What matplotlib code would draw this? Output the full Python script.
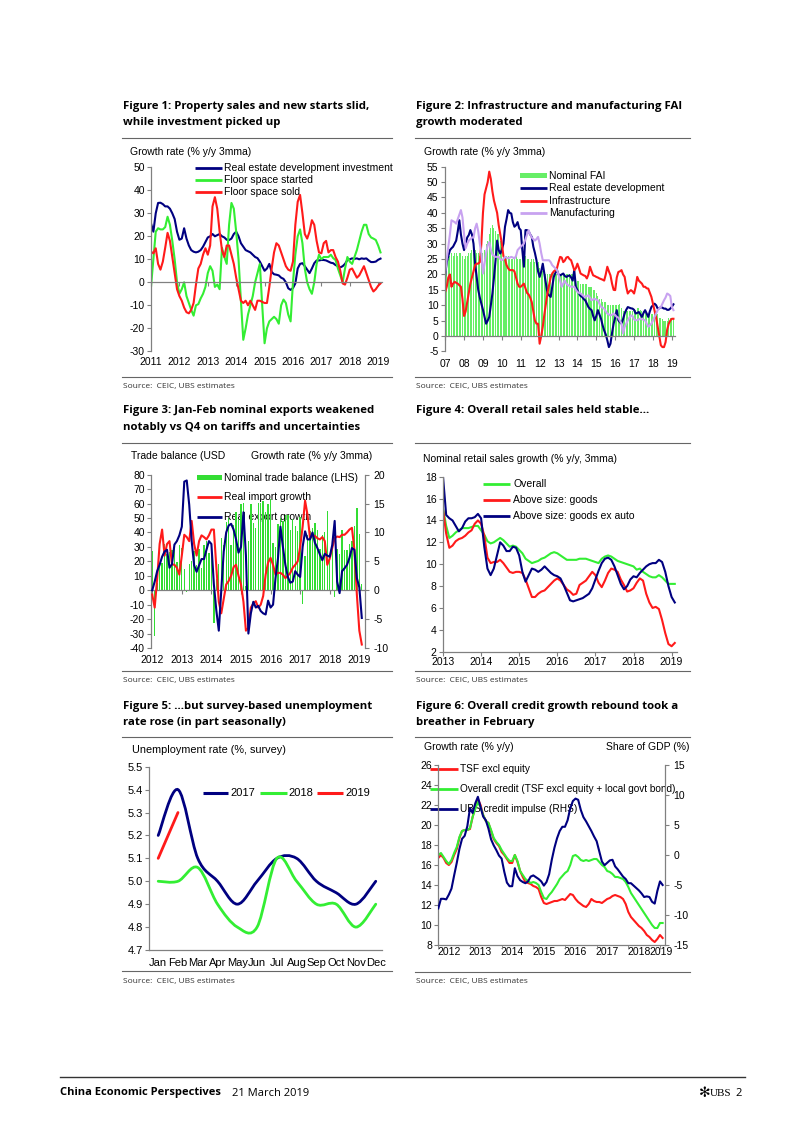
import numpy as np
import matplotlib
matplotlib.use("Agg")
import matplotlib.pyplot as plt
from matplotlib.lines import Line2D
from matplotlib.patches import Rectangle, PathPatch
from matplotlib.path import Path

# ---------------- data (monthly) ----------------
# Figure 1: Jan 2011 - Feb 2019, % y/y 3mma
f1_years = ["2011", "2012", "2013", "2014", "2015", "2016", "2017", "2018", "2019"]
f1_re_invest = [25.6, 22, 30, 34.5, 34.6, 34, 33, 33, 32, 30, 27.5, 22,
                18.5, 19, 23.5, 19, 16, 14, 13.3, 13, 13.3, 14, 15.5, 17.5,
                19.5, 20, 21, 20, 20.5, 21, 20, 19.5, 18.5, 18.4, 19, 21,
                22, 20, 17, 15.5, 14, 13.5, 13, 12, 11, 10.5, 9, 7,
                5, 6, 8, 4.5, 3.5, 3.3, 3, 2, 1.5, 0, -2.6, -3.3,
                -2.5, -0.5, 6, 8, 8.3, 7, 5.5, 4, 6, 8.3, 9.5, 9.5,
                9.7, 9.7, 9.5, 9, 8.5, 8.3, 7.5, 7, 6.5, 7, 8, 9.7,
                10, 10.4, 10.2, 10.4, 10, 10.4, 10.2, 10.4, 9.5, 8.8, 8.8, 9,
                9.8, 10.3]
f1_started = [-2, 10, 22, 23.5, 23, 23, 24, 28.5, 25, 18, 10, 0,
              -5, -3, 0, -6, -9, -12, -14.5, -10, -9.5, -7, -5, -2,
              4, 7, 5, -2, -1, -3, 15, 11, 8, 25, 34.5, 32,
              22, 10, -8, -25, -20, -14, -10, -6, 0, 4, 8, -10,
              -26.5, -20, -17, -16, -15, -16, -18, -10, -7.5, -9, -14, -17,
              0, 12, 20, 23, 17, 6, 0, -3, -5, 0, 8, 12,
              10, 11, 11, 11, 12, 10.5, 9.7, 6, 3, 0, 6, 11,
              9, 8, 11, 14, 18, 22, 25, 25, 21, 19.5, 19, 18.4,
              16, 13]
f1_sold = [13.3, 12.6, 14.8, 8, 5.5, 9, 15, 21.5, 18, 11, 4, -3,
           -6, -8, -11, -13, -13.5, -12, -9, -1, 6, 8, 12, 14.8,
           12, 16, 33, 37, 32, 22, 14, 11, 16, 16, 12, 8,
           2, -3, -8, -9, -8, -10, -8, -10, -12, -8, -8, -8.5,
           -9, -9, -2, 6, 13, 17, 16, 13, 10, 7, 5.5, 5,
           9, 25, 35, 38, 30, 21, 19, 22, 27, 25, 18, 13,
           12.6, 17, 18, 13, 14, 14, 11, 9, 5, -0.5, -1, 2,
           5.5, 6, 4, 2, 3, 5, 7, 4, 1, -2, -4, -3,
           -1.5, -0.5]

# Figure 2: Jan 2007 - Feb 2019
f2_years = ["07", "08", "09", "10", "11", "12", "13", "14", "15", "16", "17", "18", "19"]
f2_fai = [15, 21, 25, 26, 27, 26, 27, 27, 26, 27, 27, 26,
          25, 26, 26, 27, 27, 28, 27, 28, 27, 27, 26, 26,
          27, 28, 30, 31, 33, 35, 36, 35, 34, 33, 33, 31,
          29, 27, 26, 26, 26, 25, 25, 25, 25, 26, 25, 25,
          25, 26, 26, 26, 25, 25, 24, 25, 25, 24, 24, 24,
          22, 21, 21, 20, 20, 20, 20, 20, 20, 21, 21, 20,
          20, 20, 20, 20, 20, 20, 20, 20, 20, 20, 19, 19,
          18, 18, 17, 17, 17, 17, 17, 16, 16, 16, 15, 15,
          14, 13, 12, 12, 11, 11, 11, 10, 10, 10, 10, 10,
          10, 10, 10, 10.5, 9, 8, 8, 8, 8, 8, 8, 8,
          8, 8.5, 9, 9, 8.5, 8, 8, 7.5, 7, 7, 7, 7,
          7, 7, 7, 7, 6, 6, 5.5, 5, 5, 5, 6, 6,
          6, 6]
f2_realestate = [19.7, 24, 26, 27.9, 28.5, 29, 30, 31, 34, 37.6, 33, 30,
                 27.9, 30, 32, 32.8, 34.4, 33, 30, 23.5, 19.2, 15, 12.5, 10.5,
                 8.5, 6.2, 4, 5, 6.2, 10, 13.8, 19, 24.6, 31, 27.9, 26.8,
                 28, 30, 35.5, 38, 40.9, 40, 39.8, 37, 35.5, 36, 37, 35,
                 34.4, 27.9, 22.5, 34.4, 34.4, 34, 33, 32.2, 29, 27, 24.6, 21,
                 19.2, 21, 23.5, 20.3, 17, 13.8, 13.2, 12.7, 16, 19.2, 20.5, 21.4,
                 20, 19.7, 20, 20.3, 19.5, 19.2, 19.5, 19.7, 19, 18, 21.4, 16,
                 14.9, 13.8, 13, 12.7, 12, 11.6, 10.5, 9.4, 8.8, 8.4, 6.5, 5.1,
                 6.5, 8.4, 7, 5.6, 3.5, 1.8, 0.5, -1.4, -3.6, -2.5, 1, 4,
                 6, 8.4, 5.1, 4.5, 4, 5.5, 7.3, 8.5, 9.4, 9.2, 9, 8.9,
                 8.5, 7.3, 7.5, 7.8, 7, 6.2, 7.5, 8.4, 7.3, 6.2, 8, 9.4,
                 10, 10.5, 10, 8.9, 9, 9.4, 9.2, 8.9, 8.9, 8.5, 8.5, 8.9,
                 9.5, 10.3]
f2_infra = [14.3, 16, 19, 20, 16, 17, 17.6, 17.3, 17, 16.5, 16, 12,
            6.5, 8, 11, 14, 17, 19, 21, 23, 23.5, 23.5, 24, 30,
            40, 46, 48, 50, 53.4, 51, 47, 44, 42, 40, 36, 33,
            30, 26, 25, 23, 22, 21.4, 21.4, 21.4, 21, 19, 17, 16,
            16, 16.5, 17, 15.5, 14, 13.5, 12.5, 11, 8, 5, 4, 4,
            -2.5, 0, 3, 7, 10.5, 14, 16.5, 19, 20.3, 21, 21.4, 22,
            24, 25.7, 25.5, 24, 24.5, 25.5, 25.7, 25, 24.6, 23, 21.4, 22,
            23.5, 22, 20.3, 20, 19.7, 19.5, 18.7, 20, 22.5, 21, 19.7, 19.5,
            19.2, 19, 18.7, 18.5, 18.3, 18, 20, 22.5, 21, 19.7, 17, 15,
            14.9, 19, 20.8, 21, 21.4, 20, 19.2, 16, 13.8, 14.5, 14.9, 14.5,
            13.8, 16, 19.2, 18, 17.5, 17, 16, 16, 15.5, 15.4, 14, 12.7,
            10.5, 8.4, 6, 3, 0, -3, -3.6, -3.6, -2, 2, 4, 5,
            5.6, 5.6]
f2_manuf = [20.3, 25, 29, 33, 37.6, 37.3, 37, 36.5, 38, 39.5, 40.9, 38.5,
            33, 28.5, 30, 31, 31.5, 32, 32, 35, 36.5, 34, 30, 26.8,
            20.3, 23.5, 27, 29.5, 30.5, 28, 26.5, 26, 25.7, 25.7, 25.7, 25,
            24.6, 25, 25.7, 25.5, 25.2, 25.5, 25.7, 25.5, 25.2, 26, 27.9, 28.5,
            29, 29.5, 30, 31.5, 33, 34.4, 33, 32, 31.5, 31, 31.5, 32.2,
            30, 27, 24.6, 24.6, 24.6, 24.6, 24.6, 24, 23, 22.5, 22, 21.4,
            20, 18, 16, 17, 18, 17, 16.5, 16.3, 16, 16, 16, 15,
            14.3, 14, 13.8, 13.5, 12.9, 12.7, 13, 13.2, 12.4, 11.6, 11.9, 12.1,
            11.8, 11.6, 10.5, 9.5, 9.2, 8.9, 8, 7.3, 7, 6.7, 6.9, 7.3,
            6.8, 6.2, 6, 5, 4, 0.8, 3, 4, 5.1, 5.9, 6.7, 6.5,
            5.4, 5.1, 5.2, 5.4, 5.6, 5.5, 5.3, 5.1, 4, 3, 3.5, 4,
            5, 6.2, 7.3, 8.4, 9, 9.4, 10.5, 11.6, 12.5, 13.8, 13.5, 13,
            9.4, 8.4]

# Figure 3: Jan 2012 - Feb 2019
f3_years = ["2012", "2013", "2014", "2015", "2016", "2017", "2018", "2019"]
f3_balance = [27, -31.5, 5, 18, 18.7, 31.7, 25, 26.7, 27.7, 32, 19.6, 31.6,
              29, 15, -0.9, 18, 20, 27, 17.8, 28.5, 15.2, 31, 33.8, 25.6,
              31.9, -23, 7.7, 18.5, 35.9, 31.6, 47.3, 49.8, 31, 45.4, 54.5, 49.6,
              60, 60.6, 3, 34, 59.5, 46.5, 43, 60.2, 60.3, 61.6, 54, 60,
              63, 32.6, 29.9, 45.6, 50, 48, 52.3, 52, 42, 49, 44.6, 40.8,
              51, -9.2, 24, 38, 40.8, 42.8, 46.7, 42, 28.5, 38.2, 40.2, 54.7,
              20.3, 33.7, -5, 28.8, 24.9, 41.6, 28.1, 27.9, 31.7, 34, 44.7, 57,
              39.2, 4.1]
f3_imports = [-0.75, -3, 2, 8, 10.5, 6, 8, 8.5, 4.5, 4.4, 3.9, 2.7,
              6, 9.6, 9.2, 8.5, 12, 8, 6, 8.5, 9.5, 9.2, 8.8, 9.5,
              10.5, 10.5, 4, -2, -4, -1.5, 1, 1.6, 2.5, 4, 4.4, 2.5,
              1, -2, -7, -6.5, -3, -2.3, -1.9, -3, -2.5, -1, 2.7, 4.8,
              5.6, 4.4, 2.7, 3, 3, 2.7, 2.1, 2.5, 3, 3.9, 4.4, 5,
              7.5, 11, 15.5, 13, 9, 9.5, 9.4, 9, 8.8, 9.2, 8.5, 4.4,
              5.5, 7.3, 9, 9.3, 9.2, 9.6, 9.6, 10, 10.5, 10.8, 7, -0.75,
              -7, -9.4]
f3_exports = [0, 1.5, 3.3, 4.4, 5.8, 6.7, 7, 3.9, 4.5, 7.9, 8.5, 9.5,
              11, 18.8, 19, 14.8, 8.5, 4.3, 3.2, 4.3, 5.4, 5.4, 7, 8.5,
              8, 1, -3.5, -7, 0, 6.7, 10, 11.2, 11.5, 10.5, 8.8, 6.5,
              7.5, 13.5, 6, -7.5, -4, -2, -3, -2.7, -3.6, -4, -4.2, -1.8,
              -3, -2.5, 2.1, 5.5, 11, 7.5, 4.4, 2.3, 1.3, 1.5, 3.3, 2.7,
              2.3, 7.5, 10.2, 8.8, 8.8, 10, 8.2, 7.3, 6.2, 5.2, 6.3, 6,
              5.8, 7.8, 12, 1.5, -0.5, 3.3, 3.8, 4.4, 5.6, 7.3, 7, 2.1,
              0.5, -4.8]

# Figure 4: Jan 2013 - Feb 2019
f4_years = ["2013", "2014", "2015", "2016", "2017", "2018", "2019"]
f4_overall = [15.1, 13.5, 12.4, 12.6, 12.9, 13.1, 13.3, 13.3, 13.3, 13.4, 13.5, 13.5,
              13.1, 12.7, 12.1, 11.9, 12, 12.2, 12.4, 12.2, 11.9, 11.6, 11.7, 11.6,
              11.3, 11, 10.5, 10.3, 10.1, 10.2, 10.3, 10.5, 10.6, 10.8, 11, 11.1,
              11, 10.8, 10.6, 10.4, 10.4, 10.4, 10.4, 10.5, 10.5, 10.5, 10.4, 10.3,
              10.2, 10.1, 10.5, 10.7, 10.8, 10.7, 10.5, 10.3, 10.2, 10.1, 10, 9.9,
              9.8, 9.5, 9.6, 9.3, 9.1, 8.9, 8.8, 8.8, 9, 8.8, 8.5, 8.2,
              8.2, 8.2]
f4_goods = [15, 12.8, 11.5, 11.7, 12.1, 12.3, 12.4, 12.6, 12.9, 13.1, 13.7, 14,
            13.7, 12.6, 10.6, 10.1, 10.2, 10.2, 10.4, 10.1, 9.7, 9.3, 9.2, 9.3,
            9.3, 9.2, 8.6, 7.8, 7, 7, 7.3, 7.5, 7.6, 7.9, 8.2, 8.5,
            8.7, 8.5, 8.1, 7.7, 7.5, 7.2, 7.3, 8.1, 8.3, 8.5, 8.9, 9.3,
            9, 8.3, 7.9, 8.5, 9.2, 9.6, 9.5, 9.3, 8.6, 8.1, 7.5, 7.6,
            7.8, 8.3, 8.7, 8.5, 7.3, 6.5, 6, 6.1, 5.9, 4.9, 3.7, 2.7,
            2.5, 2.8]
f4_goods_ex_auto = [18, 14.5, 14.2, 14, 13.5, 13, 13.3, 13.9, 14.2, 14.2, 14.3, 14.6,
                    14.2, 11.6, 9.6, 9, 9.6, 10.8, 12, 11.7, 11.2, 11.2, 11.6, 11.5,
                    10.8, 9.3, 8.4, 9, 9.6, 9.5, 9.3, 9.5, 9.8, 9.5, 9.2, 9,
                    8.9, 8.7, 8.1, 7.4, 6.7, 6.6, 6.7, 6.8, 6.9, 7.1, 7.3, 7.8,
                    8.6, 9.4, 10.1, 10.5, 10.6, 10.4, 9.8, 9, 8.2, 7.7, 8, 8.6,
                    8.9, 8.8, 9.2, 9.5, 9.8, 10, 10.1, 10.1, 10.4, 10.2, 9.3, 8,
                    7, 6.5]

# Figure 5: surveyed unemployment rate (%)
f5_months = ["Jan", "Feb", "Mar", "Apr", "May", "Jun", "Jul", "Aug", "Sep", "Oct", "Nov", "Dec"]
f5_2017 = [5.2, 5.4, 5.1, 5.0, 4.9, 5.0, 5.1, 5.1, 5.0, 4.95, 4.9, 5.0]
f5_2018 = [5.0, 5.0, 5.06, 4.9, 4.8, 4.8, 5.1, 5.0, 4.9, 4.9, 4.8, 4.9]
f5_2019 = [5.1, 5.3]

# Figure 6: Jan 2012 - Feb 2019
f6_years = ["2012", "2013", "2014", "2015", "2016", "2017", "2018", "2019"]
f6_tsf = [16.7, 17, 16.7, 16.2, 16, 16.3, 17, 17.6, 18.7, 19.4, 19.5, 19.5,
          19.6, 20.8, 21.8, 22.6, 22, 21, 20.4, 20.2, 19.4, 18.6, 18.2, 17.9,
          17.3, 17, 16.6, 16.2, 16.2, 17, 16.3, 15.4, 14.8, 14.3, 14.2, 14.1,
          13.9, 13.8, 13.6, 12.8, 12.2, 12.1, 12.2, 12.3, 12.4, 12.4, 12.5, 12.6,
          12.5, 12.8, 13.1, 13, 12.6, 12.3, 12.1, 11.9, 11.8, 12.1, 12.6, 12.4,
          12.3, 12.3, 12.2, 12.4, 12.6, 12.7, 12.9, 13, 12.9, 12.8, 12.6, 12.1,
          11.3, 10.8, 10.5, 10.2, 9.9, 9.7, 9.4, 9, 8.8, 8.5, 8.3, 8.6,
          9, 8.7]
f6_overall = [17, 17.2, 16.8, 16.4, 16.1, 16.5, 17.2, 17.8, 18.8, 19.4, 19.5, 19.5,
              19.7, 20.8, 21.6, 22.3, 21.8, 21, 20.4, 20.2, 19.5, 18.7, 18.3, 18,
              17.5, 17.1, 16.7, 16.4, 16.4, 17, 16.4, 15.4, 15, 14.6, 14.4, 14.2,
              14.3, 14.2, 14, 13.3, 12.7, 12.6, 13, 13.3, 13.7, 14.1, 14.6, 14.9,
              15.2, 15.4, 16, 16.9, 17, 16.8, 16.5, 16.4, 16.5, 16.4, 16.5, 16.6,
              16.6, 16.3, 16, 15.8, 15.4, 15.3, 15.1, 14.8, 14.8, 14.7, 14.6, 14.3,
              13.8, 13.2, 12.8, 12.4, 12, 11.6, 11.2, 10.8, 10.4, 10, 9.7, 9.7,
              10.2, 10.2]
f6_impulse = [-8.9, -7.3, -7.3, -7.4, -6.6, -5.6, -3.4, -1.3, 1, 2.7, 3.2, 4.8,
              7.8, 7, 8.6, 9.7, 8, 6.4, 5.8, 4.4, 2.6, 1.6, 0.8, -0.1,
              -0.6, -2.8, -4.6, -5.2, -5.2, -2.2, -3.5, -4.2, -4.5, -4.7, -4.4, -3.6,
              -3.4, -3.7, -4, -4.4, -5.1, -4.5, -3.2, -0.8, 1.2, 2.8, 4, 4.7,
              4.7, 5.8, 7.8, 9, 9.4, 9.2, 7.5, 6.3, 5.6, 4.8, 4, 3.1,
              2.3, 0.6, -1.1, -1.7, -1.3, -0.9, -0.8, -1.9, -2.4, -3, -3.6, -4,
              -4.7, -4.7, -5.1, -5.5, -5.9, -6.4, -7, -6.9, -7, -7.8, -8.1, -6,
              -4.4, -5]

# ---------------- page layout helpers (pixel coords, y from top) ----------------
W, H = 802, 1133
NAVY = "#000080"
GREEN = "#33EE33"
RED = "#FF1A1A"
LILAC = "#C8A2F0"
BAR2 = "#66EE66"
BAR3 = "#33DD33"
AXC = "#808080"
TITLE_FONT = "Open Sans"

plt.rcParams["font.family"] = ["Liberation Sans", "DejaVu Sans"]
plt.rcParams["font.size"] = 7.5
plt.rcParams["axes.unicode_minus"] = False

fig = plt.figure(figsize=(W / 100, H / 100), dpi=100)


def rect(x0, y0, x1, y1):
    return [x0 / W, 1 - y1 / H, (x1 - x0) / W, (y1 - y0) / H]


def text(x, y, s, **kw):
    kw.setdefault("va", "center")
    fig.text(x / W, 1 - y / H, s, **kw)


def rule(x0, x1, y, lw=0.8, color="#666666"):
    fig.add_artist(Line2D([x0 / W, x1 / W], [1 - y / H] * 2, transform=fig.transFigure,
                          lw=lw, color=color))


def key_line(x0, x1, tx, y, color, label, fs=7.5, lw=2.0):
    fig.add_artist(Line2D([x0 / W, x1 / W], [1 - y / H] * 2, transform=fig.transFigure,
                          lw=lw, color=color, solid_capstyle="butt", zorder=-1))
    text(tx, y, label, fontsize=fs, zorder=-1)


def key_box(x0, x1, tx, y, color, label, h=5, fs=7.5):
    fig.add_artist(Rectangle((x0 / W, 1 - (y + h / 2) / H), (x1 - x0) / W, h / H,
                             transform=fig.transFigure, color=color, lw=0, zorder=-1))
    text(tx, y, label, fontsize=fs, zorder=-1)


def panel(lines, x0, x1, y_title, y_rule, y_src_rule, y_src):
    for i, t in enumerate(lines):
        text(x0 + 1, y_title + i * 16.2, t, fontsize=8.2, family=TITLE_FONT, weight="bold")
    rule(x0, x1, y_rule)
    rule(x0, x1, y_src_rule)
    text(x0 + 1, y_src, "Source:  CEIC, UBS estimates", fontsize=6, family=TITLE_FONT,
         color="#333333")


def style(ax):
    ax.set_facecolor("none")
    ax.spines["top"].set_visible(False)
    ax.spines["right"].set_visible(False)
    for s in ax.spines.values():
        s.set_color(AXC)
        s.set_linewidth(0.9)
    ax.tick_params(colors=AXC, labelcolor="black", length=3, width=0.8, labelsize=7.5)
    ax.tick_params(axis="y", pad=1.5)


def style_right(ax):
    for s in ["top", "left", "bottom"]:
        ax.spines[s].set_visible(False)
    ax.spines["right"].set_color(AXC)
    ax.spines["right"].set_linewidth(0.9)
    ax.tick_params(colors=AXC, labelcolor="black", length=3, width=0.8, labelsize=7.5, pad=3)


def smooth_path(xs, ys):
    # Excel-style smoothed line: cubic Bezier through every point
    pts = np.column_stack([xs, ys]).astype(float)
    n = len(pts)
    verts, codes = [pts[0]], [Path.MOVETO]
    for i in range(n - 1):
        p0 = pts[i - 1] if i > 0 else pts[i]
        p3 = pts[i + 2] if i + 2 < n else pts[i + 1]
        verts += [pts[i] + (pts[i + 1] - p0) / 6, pts[i + 1] - (p3 - pts[i]) / 6, pts[i + 1]]
        codes += [Path.CURVE4] * 3
    return Path(verts, codes)


# ---------------- Figure 1 ----------------
panel(["Figure 1: Property sales and new starts slid,", "while investment picked up"],
      121.7, 391.7, 106.5, 138.3, 376.7, 386.7)
text(130, 152.3, "Growth rate (% y/y 3mma)")
ax1 = fig.add_axes(rect(151, 167.3, 381.7, 351.3))
style(ax1)
m1 = np.arange(len(f1_re_invest))
ax1.plot(m1, f1_re_invest, color=NAVY, lw=1.5)
ax1.plot(m1, f1_started, color=GREEN, lw=1.5)
ax1.plot(m1, f1_sold, color=RED, lw=1.5)
ax1.set_xlim(0, 97.5)
ax1.set_ylim(-30, 50)
ax1.set_yticks(range(-30, 51, 10))
ax1.spines["bottom"].set_position(("data", 0))
ax1.set_xticks(np.arange(0, len(m1), 12))
ax1.set_xticklabels(f1_years)
ax1.tick_params(axis="x", pad=50.9)
key_line(195, 222, 224, 167.7, NAVY, "Real estate development investment")
key_line(195, 222, 224, 180, GREEN, "Floor space started")
key_line(195, 222, 224, 192.3, RED, "Floor space sold")

# ---------------- Figure 2 ----------------
panel(["Figure 2: Infrastructure and manufacturing FAI", "growth moderated"],
      415, 690, 106.5, 138.3, 376.7, 386.7)
text(424, 152.3, "Growth rate (% y/y 3mma)")
ax2 = fig.add_axes(rect(444.7, 166.7, 674.7, 351.4))
style(ax2)
m2 = np.arange(len(f2_fai))
ax2.bar(m2, f2_fai, width=0.65, color=BAR2, lw=0)
ax2.plot(m2, f2_realestate, color=NAVY, lw=1.5)
ax2.plot(m2, f2_infra, color=RED, lw=1.5)
ax2.plot(m2, f2_manuf, color=LILAC, lw=1.5)
ax2.set_xlim(-0.3, 145.8)
ax2.set_ylim(-5, 55)
ax2.set_yticks(range(-5, 56, 5))
ax2.spines["bottom"].set_position(("data", 0))
ax2.set_xticks(np.arange(0, len(m2), 12))
ax2.set_xticklabels(f2_years)
ax2.tick_params(axis="x", pad=13.3)
key_box(520, 547, 549.3, 175.7, BAR2, "Nominal FAI")
key_line(520, 547, 549.3, 188.3, NAVY, "Real estate development")
key_line(520, 547, 549.3, 201.3, RED, "Infrastructure")
key_line(520, 547, 549.3, 213.3, LILAC, "Manufacturing")

# ---------------- Figure 3 ----------------
panel(["Figure 3: Jan-Feb nominal exports weakened",
       "notably vs Q4 on tariffs and uncertainties"],
      121.7, 391.7, 411, 442.7, 671, 680.7)
text(130.7, 456, "Trade balance (USD")
text(250.7, 456, "Growth rate (% y/y 3mma)")
ax3 = fig.add_axes(rect(151, 474.7, 365, 648))
style(ax3)
m3 = np.arange(len(f3_balance))
ax3.bar(m3, f3_balance, width=0.55, color=BAR3, lw=0)
ax3.set_xlim(-0.5, 86.3)
ax3.set_ylim(-40, 80)
ax3.set_yticks(range(-40, 81, 10))
ax3.spines["bottom"].set_position(("data", 0))
ax3.set_xticks(np.arange(0, len(m3), 12))
ax3.set_xticklabels(f3_years)
ax3.tick_params(axis="x", pad=43.8)
ax3r = ax3.twinx()
style_right(ax3r)
ax3r.plot(m3, f3_imports, color=RED, lw=1.5)
ax3r.plot(m3, f3_exports, color=NAVY, lw=1.5)
ax3r.set_ylim(-10, 20)
ax3r.set_yticks(range(-10, 21, 5))
key_box(196.7, 221.7, 224.3, 477.7, BAR3, "Nominal trade balance (LHS)")
key_line(196.7, 221.7, 224.3, 496.7, RED, "Real import growth")
key_line(196.7, 221.7, 224.3, 516.7, NAVY, "Real export growth")

# ---------------- Figure 4 ----------------
panel(["Figure 4: Overall retail sales held stable\u2026"],
      415, 690, 411, 442.7, 671, 680.7)
text(422.7, 459, "Nominal retail sales growth (% y/y, 3mma)")
ax4 = fig.add_axes(rect(443, 476.7, 677, 651.7))
style(ax4)
m4 = np.arange(len(f4_overall))
ax4.plot(m4, f4_overall, color=GREEN, lw=1.5)
ax4.plot(m4, f4_goods, color=RED, lw=1.5)
ax4.plot(m4, f4_goods_ex_auto, color=NAVY, lw=1.5)
ax4.set_xlim(0, 73.7)
ax4.set_ylim(2, 18)
ax4.set_yticks(range(2, 19, 2))
ax4.set_xticks(np.arange(0, len(m4), 12))
ax4.set_xticklabels(f4_years)
ax4.tick_params(axis="x", pad=0.9)
key_line(483, 510, 513, 484.3, GREEN, "Overall")
key_line(483, 510, 513, 500.3, RED, "Above size: goods")
key_line(483, 510, 513, 516, NAVY, "Above size: goods ex auto")

# ---------------- Figure 5 ----------------
panel(["Figure 5: \u2026but survey-based unemployment", "rate rose (in part seasonally)"],
      121.7, 391.7, 706, 736.7, 971, 981)
text(131.7, 750, "Unemployment rate (%, survey)", fontsize=7.8)
ax5 = fig.add_axes(rect(149.3, 766.7, 381.7, 950))
style(ax5)
for vals, col in [(f5_2017, NAVY), (f5_2018, GREEN), (f5_2019, RED)]:
    ax5.add_patch(PathPatch(smooth_path(np.arange(len(vals)), vals), fill=False,
                            edgecolor=col, lw=2.0, capstyle="round"))
ax5.set_xlim(-0.45, 11.3)
ax5.set_ylim(4.7, 5.5)
ax5.set_yticks(np.arange(4.7, 5.51, 0.1))
ax5.set_yticklabels([f"{v:.1f}" for v in np.arange(4.7, 5.51, 0.1)])
ax5.set_xticks(range(12))
ax5.set_xticklabels(f5_months)
ax5.tick_params(axis="x", length=0, pad=5.4, labelsize=8)
ax5.tick_params(axis="y", labelsize=8)
key_line(203, 228, 230, 793.3, NAVY, "2017", fs=8, lw=2.2)
key_line(260, 287, 288.5, 793.3, GREEN, "2018", fs=8, lw=2.2)
key_line(316.7, 343.3, 345, 793.3, RED, "2019", fs=8, lw=2.2)

# ---------------- Figure 6 ----------------
panel(["Figure 6: Overall credit growth rebound took a", "breather in February"],
      415, 690, 706, 736.7, 972, 981)
text(424, 746.7, "Growth rate (% y/y)")
text(689.3, 746.7, "Share of GDP (%)", ha="right")
ax6 = fig.add_axes(rect(438.3, 765, 665, 945))
style(ax6)
m6 = np.arange(len(f6_tsf))
ax6.plot(m6, f6_tsf, color=RED, lw=1.5)
ax6.plot(m6, f6_overall, color=GREEN, lw=1.5)
ax6.set_xlim(0, 85.9)
ax6.set_ylim(8, 26)
ax6.set_yticks(range(8, 27, 2))
ax6.set_xticks(np.arange(0, len(m6), 12), minor=True)
ax6.set_xticks(list(np.arange(4, 80, 12)) + [84.4])
ax6.set_xticklabels(f6_years)
ax6.tick_params(axis="x", which="major", length=0, pad=1.5)
ax6.tick_params(axis="x", which="minor", length=3, color=AXC)
ax6r = ax6.twinx()
style_right(ax6r)
ax6r.plot(m6, f6_impulse, color=NAVY, lw=1.5)
ax6r.set_ylim(-15, 15)
ax6r.set_yticks(range(-15, 16, 5))
key_line(430, 458, 460, 769, RED, "TSF excl equity", fs=7.3)
key_line(430, 458, 460, 789, GREEN, "Overall credit (TSF excl equity + local govt bond)", fs=7.2)
key_line(430, 458, 460, 809, NAVY, "UBS credit impulse (RHS)", fs=7.3)

# ---------------- footer ----------------
rule(60, 745, 1077, lw=1.0, color="#333333")
text(60, 1093, "China Economic Perspectives", fontsize=8, family=TITLE_FONT, weight="bold")
text(232, 1093, "21 March 2019", fontsize=8, family=TITLE_FONT)
text(742, 1093, "2", fontsize=8, family=TITLE_FONT, ha="right")
text(731, 1093, "UBS", fontsize=8, family="Liberation Serif", ha="right")
text(699, 1093, "\u273b", fontsize=10, family="DejaVu Sans", ha="left")

fig.savefig("out.png", dpi=100)
